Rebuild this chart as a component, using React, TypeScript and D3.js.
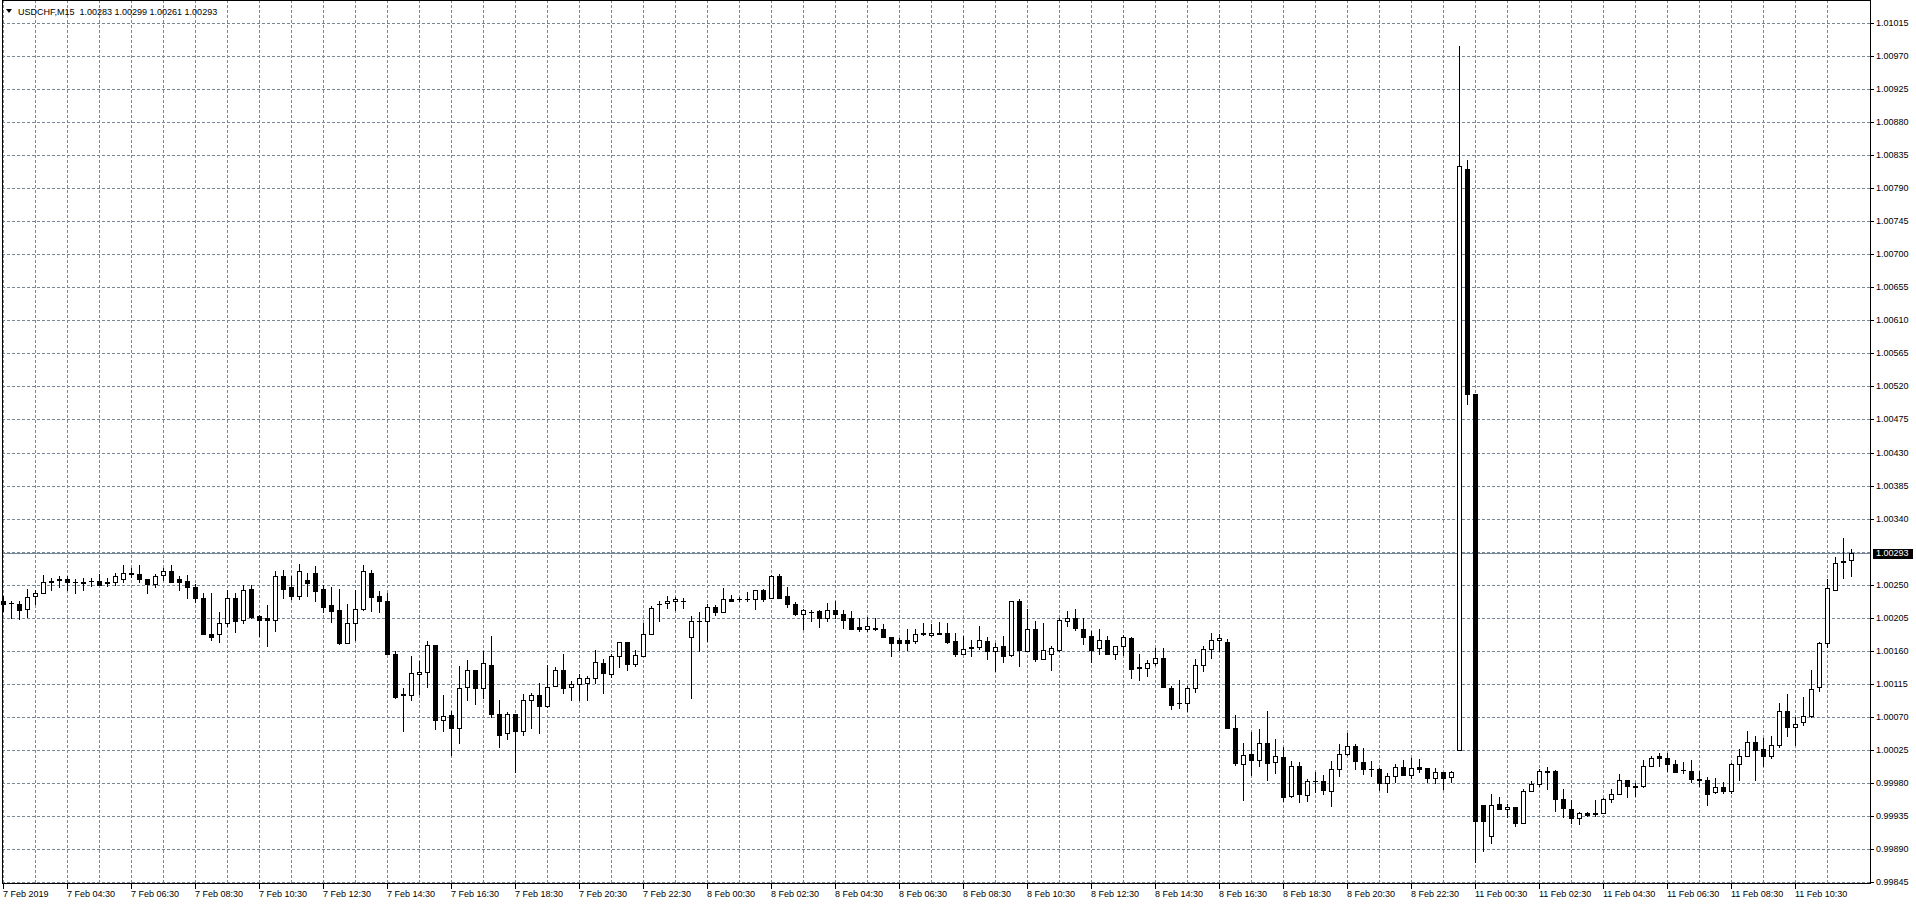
import React, { useEffect, useMemo } from 'react';
import * as d3 from 'd3';

const chartWidth = 1916;
const chartHeight = 906;
const plotLeft = 2;
const plotTop = 0;
const plotRight = 1870;
const plotBottom = 883;

const symbolName = 'USDCHF,M15';
const lastQuote = ['1.00283', '1.00299', '1.00261', '1.00293'];
const currentPrice = 1.00293;

// M15 bars, 7 Feb 02:30 -> 11 Feb 12:15
const opens = [
  1.00227, 1.00225, 1.00223, 1.00217, 1.00235, 1.00239, 1.00255, 1.00258, 1.00258, 1.00254,
  1.00254, 1.00255, 1.00255, 1.00254, 1.00253, 1.00258, 1.00266, 1.00265, 1.00258, 1.00251,
  1.00263, 1.00268, 1.00258, 1.00255, 1.00247, 1.00232, 1.00183, 1.00183, 1.00197, 1.00232,
  1.00202, 1.00244, 1.00207, 1.00204, 1.00202, 1.00262, 1.00247, 1.00234, 1.00256, 1.00266,
  1.00244, 1.00222, 1.00216, 1.0017, 1.00197, 1.00217, 1.00266, 1.00234, 1.00228, 1.00156,
  1.00101, 1.00099, 1.00128, 1.00131, 1.00168, 1.00066, 1.00072, 1.00054, 1.00111, 1.00133,
  1.00109, 1.00141, 1.00074, 1.00048, 1.00074, 1.0005, 1.00092, 1.001, 1.00085, 1.00112,
  1.00133, 1.0011, 1.00115, 1.00116, 1.00123, 1.00143, 1.00128, 1.00152, 1.00172, 1.00142,
  1.00152, 1.00182, 1.00224, 1.00225, 1.00227, 1.00228, 1.00178, 1.00201, 1.00201, 1.00219,
  1.00213, 1.00231, 1.0023, 1.00231, 1.00231, 1.00243, 1.00232, 1.00261, 1.00234, 1.00223,
  1.0021, 1.00213, 1.00214, 1.00205, 1.00215, 1.0021, 1.00204, 1.00192, 1.0019, 1.00191,
  1.0019, 1.00179, 1.00174, 1.00174, 1.00173, 1.00184, 1.00181, 1.00183, 1.00184, 1.00173,
  1.00156, 1.00165, 1.00165, 1.00173, 1.0016, 1.00166, 1.00154, 1.00228, 1.0016, 1.0019,
  1.00149, 1.00156, 1.00161, 1.002, 1.00205, 1.0019, 1.0018, 1.00163, 1.00174, 1.00156,
  1.00166, 1.00177, 1.00138, 1.00136, 1.00143, 1.0015, 1.00109, 1.00088, 1.00088, 1.00109,
  1.0014, 1.00162, 1.00175, 1.00172, 1.00055, 1.00005, 1.00019, 1.00011, 1.00034, 1.00008,
  1.00015, 0.99962, 1.00003, 0.99963, 0.99982, 0.99982, 0.99968, 0.99998, 1.00019, 1.0003,
  1.00008, 0.99998, 0.99998, 0.9998, 0.99989, 1.00002, 0.9999, 1.00001, 1.0, 0.99986,
  0.99994, 0.99988, 1.00024, 1.00817, 1.0051, 0.9995, 0.99907, 0.99951, 0.99944, 0.99947,
  0.99925, 0.99969, 0.99978, 0.99996, 0.99996, 0.99958, 0.99944, 0.99932, 0.99939, 0.99939,
  0.99939, 0.99958, 0.99964, 0.99983, 0.99976, 0.99976, 1.00003, 1.00017, 1.00014, 1.00005,
  0.99997, 0.99996, 0.99985, 0.99983, 0.99967, 0.99974, 0.99969, 1.00006, 1.00017, 1.00035,
  1.00026, 1.00017, 1.00032, 1.00078, 1.00056, 1.00062, 1.00071, 1.0011, 1.0017, 1.00242,
  1.00282, 1.00283,
];

const highs = [
  1.00235, 1.00228, 1.00227, 1.00244, 1.00242, 1.00263, 1.00259, 1.00262, 1.00262, 1.00258,
  1.00259, 1.00259, 1.00265, 1.00259, 1.00266, 1.00277, 1.00273, 1.00277, 1.00258, 1.00264,
  1.00273, 1.00277, 1.00261, 1.00263, 1.00251, 1.00239, 1.00239, 1.00212, 1.00242, 1.00239,
  1.00249, 1.00249, 1.00209, 1.00222, 1.00268, 1.0027, 1.00262, 1.00278, 1.00266, 1.00275,
  1.00249, 1.00247, 1.00244, 1.00224, 1.00243, 1.00276, 1.0027, 1.00241, 1.00238, 1.00159,
  1.00109, 1.00153, 1.00146, 1.00173, 1.00168, 1.00099, 1.00078, 1.00139, 1.00147, 1.00133,
  1.0016, 1.0018, 1.00092, 1.00076, 1.00074, 1.00101, 1.00102, 1.00116, 1.00141, 1.00137,
  1.00156, 1.00119, 1.00128, 1.00126, 1.00161, 1.00149, 1.00155, 1.00172, 1.00172, 1.00161,
  1.00198, 1.00221, 1.00227, 1.00234, 1.00233, 1.00232, 1.00207, 1.00213, 1.00224, 1.00222,
  1.00245, 1.00236, 1.00233, 1.0024, 1.00243, 1.00244, 1.00263, 1.00264, 1.00246, 1.00226,
  1.00217, 1.00216, 1.00215, 1.00225, 1.00228, 1.00215, 1.00214, 1.00204, 1.00206, 1.00205,
  1.00196, 1.00179, 1.00177, 1.0019, 1.00189, 1.00198, 1.00196, 1.00199, 1.00198, 1.00184,
  1.0018, 1.00174, 1.00193, 1.00179, 1.0017, 1.0018, 1.00228, 1.00231, 1.00217, 1.002,
  1.00198, 1.00166, 1.00204, 1.00214, 1.00217, 1.00204, 1.00187, 1.00189, 1.0018, 1.00166,
  1.00181, 1.00179, 1.00156, 1.00147, 1.00163, 1.00164, 1.00112, 1.0012, 1.00112, 1.00148,
  1.00166, 1.00184, 1.00183, 1.00176, 1.00072, 1.00034, 1.00049, 1.00053, 1.00077, 1.0004,
  1.00028, 1.0001, 1.00008, 0.99985, 0.99994, 0.9999, 1.00009, 1.00033, 1.00047, 1.00033,
  1.00027, 1.0001, 1.0, 0.99993, 1.00006, 1.00011, 1.00014, 1.00012, 1.0, 1.0,
  0.99994, 0.99996, 1.00984, 1.00828, 1.0051, 0.9995, 0.99965, 0.9996, 0.99951, 0.99947,
  0.99972, 0.99982, 0.99999, 1.00001, 0.99997, 0.99972, 0.99956, 0.9994, 0.9994, 0.99957,
  0.99959, 0.99972, 0.99992, 0.99983, 0.9998, 1.00011, 1.00017, 1.0002, 1.0002, 1.00011,
  1.00008, 1.00011, 0.99996, 0.99988, 0.99987, 0.99981, 1.00007, 1.00026, 1.00051, 1.00044,
  1.00041, 1.00044, 1.00088, 1.00101, 1.0007, 1.00097, 1.00133, 1.00172, 1.00257, 1.00287,
  1.00314, 1.00299,
];

const lows = [
  1.00214, 1.00205, 1.00203, 1.00206, 1.00224, 1.00239, 1.00242, 1.00246, 1.00243, 1.00238,
  1.00242, 1.00248, 1.00249, 1.00248, 1.00249, 1.00253, 1.0026, 1.00254, 1.00238, 1.00246,
  1.00256, 1.00253, 1.00242, 1.00232, 1.00226, 1.00183, 1.00174, 1.00172, 1.00193, 1.00186,
  1.00198, 1.00205, 1.0018, 1.00166, 1.00187, 1.00232, 1.00231, 1.00231, 1.00235, 1.00228,
  1.00213, 1.00199, 1.00169, 1.0017, 1.00174, 1.00215, 1.00214, 1.00213, 1.00156, 1.00096,
  1.00051, 1.00092, 1.00101, 1.00111, 1.00053, 1.00051, 1.00018, 1.00034, 1.00093, 1.00087,
  1.00095, 1.0007, 1.00028, 1.0004, 0.99995, 1.00045, 1.00055, 1.00048, 1.00083, 1.00112,
  1.00102, 1.00092, 1.00092, 1.00092, 1.00116, 1.00102, 1.00124, 1.00137, 1.00134, 1.00139,
  1.00152, 1.00182, 1.002, 1.00218, 1.00216, 1.00218, 1.00096, 1.0016, 1.00173, 1.00209,
  1.00213, 1.00227, 1.00227, 1.00227, 1.00217, 1.00228, 1.00232, 1.00232, 1.00219, 1.00209,
  1.00189, 1.00201, 1.00192, 1.002, 1.00204, 1.00191, 1.0019, 1.00187, 1.00187, 1.00188,
  1.00179, 1.00152, 1.00161, 1.00161, 1.00171, 1.00181, 1.0018, 1.00182, 1.00171, 1.00152,
  1.00156, 1.00153, 1.00162, 1.00149, 1.00132, 1.00144, 1.00153, 1.00139, 1.0016, 1.00146,
  1.00149, 1.00134, 1.00159, 1.00194, 1.00188, 1.00169, 1.00144, 1.00156, 1.00156, 1.00149,
  1.00154, 1.00122, 1.0012, 1.00126, 1.00141, 1.00111, 1.0008, 1.00082, 1.00078, 1.00103,
  1.00132, 1.0015, 1.0016, 1.00054, 1.00004, 0.99956, 0.99991, 1.00003, 0.99983, 0.99993,
  0.99955, 0.9996, 0.99953, 0.99955, 0.99967, 0.99965, 0.99948, 0.99989, 1.00018, 0.99998,
  0.99992, 0.99989, 0.9997, 0.99967, 0.99981, 0.9999, 0.99987, 0.99995, 0.99981, 0.9998,
  0.99971, 0.99981, 1.00024, 1.00496, 0.99872, 0.99887, 0.99898, 0.99944, 0.99933, 0.99921,
  0.99925, 0.99968, 0.99976, 0.99972, 0.99942, 0.99933, 0.99925, 0.99924, 0.99935, 0.99934,
  0.99939, 0.99953, 0.99964, 0.99961, 0.99962, 0.99974, 1.00003, 1.00003, 0.99996, 0.99995,
  0.99993, 0.99981, 0.99976, 0.99949, 0.99966, 0.99966, 0.99966, 0.99984, 1.00017, 0.99983,
  1.00003, 1.00014, 1.00029, 1.00044, 1.00032, 1.00058, 1.00069, 1.00105, 1.00165, 1.00242,
  1.00259, 1.00261,
];

const closes = [
  1.00224, 1.00225, 1.00216, 1.00233, 1.00239, 1.00254, 1.00253, 1.00256, 1.00253, 1.00254,
  1.00252, 1.00255, 1.0025, 1.00252, 1.00261, 1.00266, 1.00264, 1.00257, 1.00251, 1.00262,
  1.00268, 1.00253, 1.00254, 1.00246, 1.00232, 1.00183, 1.00178, 1.00197, 1.00232, 1.00201,
  1.00243, 1.00206, 1.00202, 1.00202, 1.00262, 1.00244, 1.00234, 1.00268, 1.00252, 1.00241,
  1.00219, 1.00214, 1.00171, 1.00197, 1.00217, 1.00268, 1.00233, 1.00228, 1.00156, 1.00097,
  1.00099, 1.00129, 1.00131, 1.00168, 1.00066, 1.00071, 1.00055, 1.00109, 1.00133, 1.00109,
  1.00143, 1.00074, 1.00045, 1.00074, 1.0005, 1.00093, 1.00099, 1.00085, 1.00111, 1.00134,
  1.00109, 1.00115, 1.00122, 1.00123, 1.00145, 1.00129, 1.00152, 1.00172, 1.00142, 1.00154,
  1.00182, 1.00218, 1.00224, 1.00228, 1.00231, 1.00227, 1.002, 1.002, 1.00219, 1.00213,
  1.00231, 1.00228, 1.0023, 1.00231, 1.00243, 1.00231, 1.00261, 1.00232, 1.00224, 1.0021,
  1.00215, 1.00213, 1.00205, 1.00215, 1.0021, 1.00202, 1.0019, 1.0019, 1.00193, 1.00189,
  1.00179, 1.00171, 1.00171, 1.00171, 1.00182, 1.00182, 1.00184, 1.00184, 1.00172, 1.00156,
  1.00162, 1.00163, 1.00174, 1.0016, 1.00165, 1.00153, 1.00228, 1.00161, 1.0019, 1.00149,
  1.00161, 1.00163, 1.00202, 1.00205, 1.00191, 1.00179, 1.00161, 1.00174, 1.00156, 1.00166,
  1.00179, 1.00135, 1.00136, 1.00143, 1.0015, 1.00111, 1.00086, 1.00088, 1.00109, 1.0014,
  1.00162, 1.00175, 1.00177, 1.00054, 1.00007, 1.00018, 1.00011, 1.00034, 1.00007, 1.00016,
  0.9996, 1.00003, 0.99964, 0.99982, 0.99982, 0.9997, 0.99998, 1.00019, 1.0003, 1.00009,
  0.99998, 0.99998, 0.9998, 0.99989, 1.00001, 0.9999, 1.0, 0.99999, 0.99987, 0.99994,
  0.99987, 0.99995, 1.0082, 1.0051, 0.99928, 0.99928, 0.9995, 0.99944, 0.99947, 0.99925,
  0.99969, 0.99978, 0.99996, 0.99994, 0.99958, 0.99945, 0.99932, 0.99939, 0.99936, 0.99937,
  0.99958, 0.99964, 0.99983, 0.99975, 0.99974, 1.00003, 1.00014, 1.00014, 1.00005, 0.99995,
  0.99997, 0.99985, 0.99983, 0.99965, 0.99974, 0.99969, 1.00006, 1.00017, 1.00035, 1.00025,
  1.00017, 1.00032, 1.00077, 1.00056, 1.0006, 1.00071, 1.00108, 1.0017, 1.00245, 1.0028,
  1.00281, 1.00293,
];

// one label every 8 bars (2 hours)
const timeLabels = [
  '7 Feb 2019', '7 Feb 04:30', '7 Feb 06:30', '7 Feb 08:30', '7 Feb 10:30', '7 Feb 12:30',
  '7 Feb 14:30', '7 Feb 16:30', '7 Feb 18:30', '7 Feb 20:30', '7 Feb 22:30', '8 Feb 00:30',
  '8 Feb 02:30', '8 Feb 04:30', '8 Feb 06:30', '8 Feb 08:30', '8 Feb 10:30', '8 Feb 12:30',
  '8 Feb 14:30', '8 Feb 16:30', '8 Feb 18:30', '8 Feb 20:30', '8 Feb 22:30', '11 Feb 00:30',
  '11 Feb 02:30', '11 Feb 04:30', '11 Feb 06:30', '11 Feb 08:30', '11 Feb 10:30',
];

const priceTicks = [
  '1.01015', '1.00970', '1.00925', '1.00880', '1.00835', '1.00790', '1.00745', '1.00700',
  '1.00655', '1.00610', '1.00565', '1.00520', '1.00475', '1.00430', '1.00385', '1.00340',
  '1.00295', '1.00250', '1.00205', '1.00160', '1.00115', '1.00070', '1.00025', '0.99980',
  '0.99935', '0.99890', '0.99845',
];

const gridColor = '#778899';
const fontFamily = "Tahoma, 'Liberation Sans', Arial, sans-serif";

const App = () => {
  useEffect(() => {
    document.body.style.margin = '0';
  }, []);

  const x = useMemo(
    () => d3.scaleLinear().domain([0, opens.length - 1]).range([3, 3 + 8 * (opens.length - 1)]),
    []
  );
  const y = useMemo(
    () => d3.scaleLinear().domain([0.99845, 1.01015]).range([881.7, 23.3]),
    []
  );
  const py = (v: number) => Math.round(y(v));

  const vGrid = d3.range(0, opens.length, 4);
  const labelBars = timeLabels.map((_, i) => i * 8);

  return (
    <svg
      width={chartWidth}
      height={chartHeight}
      style={{ position: 'absolute', left: 0, top: 0, background: '#fff' }}
      fontFamily={fontFamily}
      fontSize={9}
    >
      {/* grid */}
      <g stroke={gridColor} strokeWidth={1} strokeDasharray="3,2" shapeRendering="crispEdges">
        {priceTicks.map((t) => (
          <line key={t} x1={plotLeft} x2={plotRight} y1={py(+t) + 0.5} y2={py(+t) + 0.5} />
        ))}
        {vGrid.map((i) => (
          <line key={i} x1={x(i) + 0.5} x2={x(i) + 0.5} y1={plotTop} y2={plotBottom} />
        ))}
      </g>

      {/* bid line */}
      <line
        x1={plotLeft}
        x2={plotRight}
        y1={py(currentPrice) + 0.5}
        y2={py(currentPrice) + 0.5}
        stroke={gridColor}
        strokeWidth={1}
        shapeRendering="crispEdges"
      />

      {/* candles */}
      <g shapeRendering="crispEdges">
        {opens.map((o, i) => {
          const c = closes[i];
          const cx = Math.round(x(i));
          const top = py(Math.max(o, c));
          const bot = py(Math.min(o, c));
          const bull = c >= o;
          return (
            <g key={i}>
              <line
                x1={cx + 0.5}
                x2={cx + 0.5}
                y1={py(highs[i])}
                y2={py(lows[i]) + 1}
                stroke="#000"
              />
              {bot - top < 1 ? (
                <line x1={cx - 2} x2={cx + 3} y1={top + 0.5} y2={top + 0.5} stroke="#000" />
              ) : (
                <rect
                  x={cx - 1.5}
                  y={top + 0.5}
                  width={4}
                  height={bot - top}
                  fill={bull ? '#fff' : '#000'}
                  stroke="#000"
                />
              )}
            </g>
          );
        })}
      </g>

      {/* frame */}
      <rect
        x={plotLeft + 0.5}
        y={plotTop + 0.5}
        width={plotRight - plotLeft}
        height={plotBottom - plotTop}
        fill="none"
        stroke="#000"
        shapeRendering="crispEdges"
      />

      {/* price axis */}
      <g>
        {priceTicks.map((t) =>
          t === '1.00295' ? null : (
            <g key={t} transform={`translate(0,${py(+t) + 0.5})`}>
              <line x1={plotRight} x2={plotRight + 4} stroke="#000" shapeRendering="crispEdges" />
              <text x={plotRight + 6} dy="0.33em" fill="#000">
                {t}
              </text>
            </g>
          )
        )}
        <rect x={plotRight + 3} y={py(currentPrice) - 4} width={40} height={10} fill="#000" />
        <text x={plotRight + 6} y={py(currentPrice) + 0.5} dy="0.33em" fill="#fff">
          {currentPrice.toFixed(5)}
        </text>
      </g>

      {/* time axis */}
      <g>
        {labelBars.map((b, i) => (
          <g key={b} transform={`translate(${Math.round(x(b)) + 0.5},0)`}>
            <line y1={plotBottom} y2={plotBottom + 6} stroke="#000" shapeRendering="crispEdges" />
            <text x={-0.5} y={plotBottom + 14} fill="#000">
              {timeLabels[i]}
            </text>
          </g>
        ))}
      </g>

      {/* title */}
      <path d="M6,9 L12,9 L9,13 Z" fill="#000" />
      <text x={18} y={14.5} fill="#000" style={{ whiteSpace: 'pre' }}>
        {`${symbolName}  ${lastQuote.join(' ')}`}
      </text>
    </svg>
  );
};

export default App;
